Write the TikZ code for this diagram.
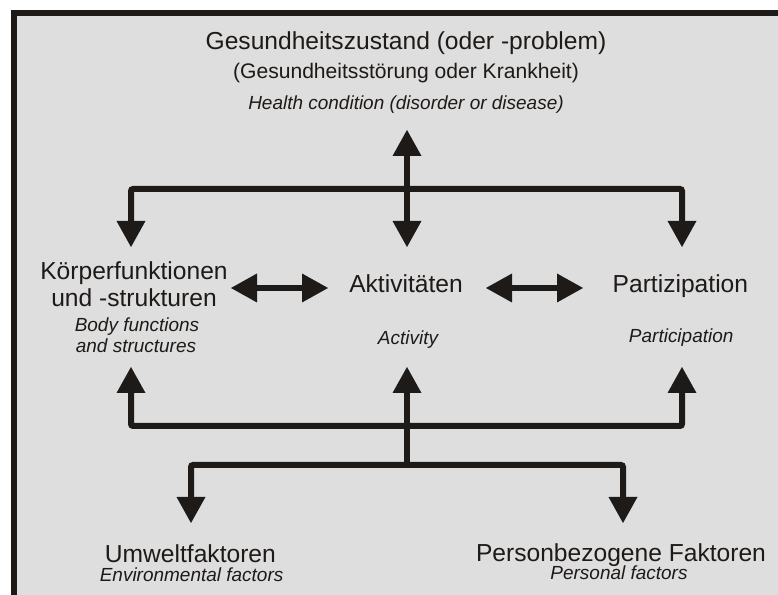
\documentclass[tikz,border=0pt]{standalone}
\usepackage{fontspec}
\setmainfont{Liberation Sans}
\usetikzlibrary{arrows.meta}

\definecolor{panel}{RGB}{222,222,222}
\definecolor{ink}{RGB}{30,26,23}

\begin{document}
\begin{tikzpicture}[>={Triangle[length=0.65cm,width=0.725cm,line width=0pt]},
  thick,
  link/.style={draw=ink,line width=0.15cm,rounded corners=1.5pt},
  de/.style={anchor=base,text=ink,inner sep=0pt,font=\fontsize{17.5}{21}\selectfont},
  desub/.style={de,font=\fontsize{15}{18}\selectfont},
  en/.style={anchor=base,text=ink,inner sep=0pt,font=\fontsize{13.5}{16}\selectfont\itshape}]
  \useasboundingbox (0,0) rectangle (19.45,14.875);

  % panel and frame
  \fill[panel] (0.275,0) rectangle (19.45,14.625);
  \draw[ink,line width=0.15cm] (0.35,0) |- (19.45,14.55);

  % labels
  \node[de] (health) at (10.15,13.625) {Gesundheitszustand (oder -problem)};
  \node[desub] (health2) at (10.15,12.9) {(Gesundheitsstörung oder Krankheit)};
  \node[en] (health-en) at (10.15,12.125) {Health condition (disorder or disease)};

  \node[de] (body) at (3.35,7.875) {Körperfunktionen};
  \node[de] (body2) at (3.35,7.2) {und -strukturen};
  \node[en] (body-en) at (3.425,6.575) {Body functions};
  \node[en] (body-en2) at (3.4,6.05) {and structures};

  \node[de] (act) at (10.15,7.55) {Aktivitäten};
  \node[en] (act-en) at (10.2,6.25) {Activity};

  \node[de] (part) at (17.01,7.55) {Partizipation};
  \node[en] (part-en) at (17.03,6.3) {Participation};

  \node[de] (env) at (4.76,0.8) {Umweltfaktoren};
  \node[en] (env-en) at (4.79,0.325) {Environmental factors};

  \node[de] (pers) at (15.525,0.825) {Personbezogene Faktoren};
  \node[en] (pers-en) at (15.475,0.375) {Personal factors};

  % ends of the connectors
  \coordinate (health-tip) at (10.175,11.625);
  \coordinate (upper-split) at (10.175,10.15);
  \coordinate (lower-split) at (10.175,4.225);
  \coordinate (context) at (10.175,3.25);
  \coordinate (body-in) at (3.275,8.7);
  \coordinate (act-in) at (10.175,8.7);
  \coordinate (part-in) at (17.05,8.7);
  \coordinate (body-out) at (3.275,5.7);
  \coordinate (act-out) at (10.175,5.7);
  \coordinate (part-out) at (17.05,5.7);
  \coordinate (env-in) at (4.775,1.8);
  \coordinate (pers-in) at (15.575,1.8);
  \coordinate (body-r) at (5.775,7.675);
  \coordinate (act-l) at (8.2,7.675);
  \coordinate (act-r) at (12.15,7.675);
  \coordinate (part-l) at (14.575,7.675);

  % connectors
  \draw[link,<->] (health-tip) -- (act-in);
  \draw[link,->] (upper-split) -| (body-in);
  \draw[link,->] (upper-split) -| (part-in);
  \draw[link,<->] (body-r) -- (act-l);
  \draw[link,<->] (act-r) -- (part-l);
  \draw[link,->] (lower-split) -| (body-out);
  \draw[link,->] (lower-split) -| (part-out);
  \draw[link,->] (context) -- (act-out);
  \draw[link,->] (context) -| (env-in);
  \draw[link,->] (context) -| (pers-in);
\end{tikzpicture}
\end{document}
